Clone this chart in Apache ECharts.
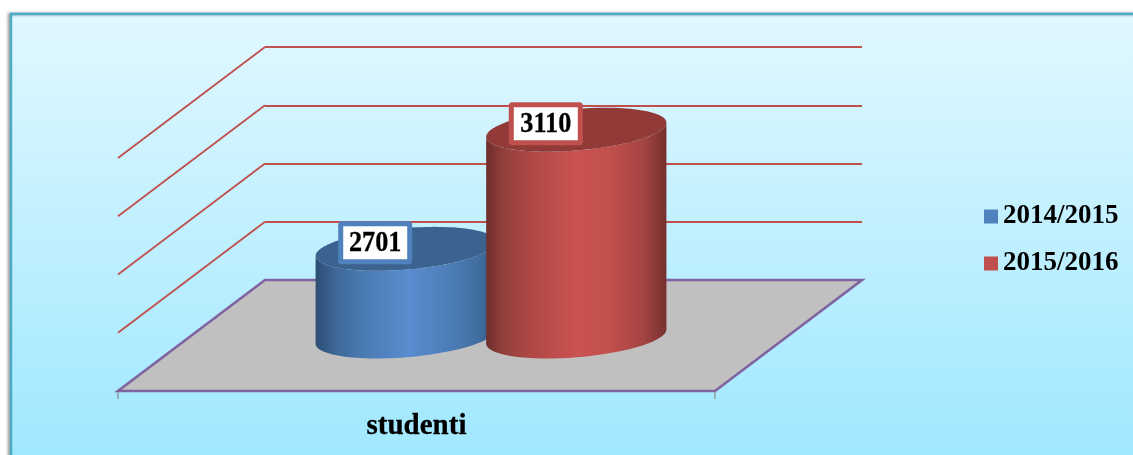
<!DOCTYPE html>
<html><head><meta charset="utf-8">
<style>html,body{margin:0;padding:0;background:#fff}#c{width:1133px;height:455px}</style>
<script src="https://cdn.jsdelivr.net/npm/echarts@6/dist/echarts.min.js"></script>
</head><body><div id="c"></div>
<script>
var categories = ['studenti'];
var seriesNames = ['2014/2015', '2015/2016'];
var values2014 = [2701];
var values2015 = [3110];
var tickValues = [2400, 2600, 2800, 3000, 3200];

var DEPTH = [-147, 111];
var FONT = '"Liberation Serif", serif';
var chart = echarts.init(document.getElementById('c'), null, {renderer: 'canvas'});

function ellipsePoints(cx, cy, r, d, from, to, n) {
  var pts = [];
  for (var i = 0; i <= n; i++) {
    var t = from + (to - from) * i / n;
    pts.push([cx + r * Math.cos(t) + DEPTH[0] * d * Math.sin(t), cy + DEPTH[1] * d * Math.sin(t)]);
  }
  return pts;
}

function cylinder(offsetBands, stops, topColor, labelColor) {
  return function (params, api) {
    var band = api.size([1, 0])[0];
    var top = api.coord([api.value(0), api.value(1)]);
    var base = api.coord([api.value(0), tickValues[0]]);
    var r = band / 7, d = 0.198;
    var cx = top[0] + band * offsetBands + DEPTH[0] * 0.5 + 1;
    var yTop = top[1] + DEPTH[1] * 0.5 + 1, yBase = base[1] + DEPTH[1] * 0.5 + 1;
    var tExt = Math.atan2(DEPTH[0] * d, r);           // t of the right-most point
    var lowerArc = ellipsePoints(cx, yBase, r, d, tExt, tExt + Math.PI, 60);
    var upperArc = ellipsePoints(cx, yTop, r, d, tExt + Math.PI, tExt, 60);
    var lx = cx - 30.5, ly = yTop - 6;
    return {type: 'group', silent: true, children: [
      {type: 'polygon', shape: {points: lowerArc.concat(upperArc)},
        style: {fill: new echarts.graphic.LinearGradient(0, 0, 1, 0, stops)}},
      {type: 'polygon', shape: {points: ellipsePoints(cx, yTop, r, d, 0, Math.PI * 2, 120)},
        style: {fill: topColor}},
      {type: 'rect', shape: {x: lx - 34.5, y: ly - 19, width: 69, height: 38, r: 1},
        style: {fill: '#fff', stroke: labelColor, lineWidth: 5}},
      {type: 'text', x: lx, y: ly + 0.5, scaleX: 0.92,
        style: {text: String(api.value(1)), fill: '#000', stroke: '#000', lineWidth: 0.3, align: 'center', verticalAlign: 'middle',
          font: 'bold 28.5px ' + FONT}}
    ]};
  };
}

function renderFrame(params, api) {
  var band = api.size([1, 0])[0];
  var bl = api.coord([0, tickValues[0]]);
  var xL = bl[0] - band / 2, xR = xL + band, yB = bl[1];
  var purple = '#8064a2';
  var children = [];
  tickValues.slice(1).forEach(function (v) {
    var p = api.coord([0, v]);
    children.push({type: 'line', shape: {x1: xL, y1: p[1], x2: xL + DEPTH[0], y2: p[1] + DEPTH[1]},
      style: {stroke: '#c0504d', lineWidth: 1.8}});
  });
  children.push({type: 'polygon',
    shape: {points: [[xL, yB], [xR, yB], [xR + DEPTH[0], yB + DEPTH[1]], [xL + DEPTH[0], yB + DEPTH[1]]]},
    style: {fill: '#c0c0c0', stroke: purple, lineWidth: 2.6}});
  [xL, xR].forEach(function (x) {
    children.push({type: 'line', shape: {x1: x + DEPTH[0], y1: yB + DEPTH[1] + 1, x2: x + DEPTH[0], y2: yB + DEPTH[1] + 8},
      style: {stroke: '#8a8a8a', lineWidth: 1.2}});
  });
  children.push({type: 'text', x: xL + band / 2 + DEPTH[0], y: yB + DEPTH[1] + 36, scaleX: 1,
    style: {text: categories[0], fill: '#000', stroke: '#000', lineWidth: 0.3, align: 'center', verticalAlign: 'middle',
      font: 'bold 29px ' + FONT}});
  return {type: 'group', silent: true, children: children};
}

chart.setOption({
  animation: false,
  backgroundColor: '#fff',
  graphic: [{type: 'rect', z: -10, silent: true,
    shape: {x: 11, y: 14, width: 1140, height: 460},
    style: {
      fill: new echarts.graphic.LinearGradient(0, 0, 0, 1, [{offset: 0, color: '#e1f8ff'}, {offset: 1, color: '#9de7ff'}]),
      stroke: '#4bacc6', lineWidth: 2.4, shadowBlur: 3, shadowColor: 'rgba(0,0,0,0.3)', shadowOffsetX: -2
    }}],
  grid: {left: 265, width: 597, top: 47, height: 233, containLabel: false},
  xAxis: {type: 'category', data: categories, axisLine: {show: false}, axisTick: {show: false}, axisLabel: {show: false}, splitLine: {show: false}},
  yAxis: {type: 'value', min: tickValues[0], max: tickValues[tickValues.length - 1], interval: 200,
    axisLine: {show: false}, axisTick: {show: false}, axisLabel: {show: false},
    splitLine: {show: true, lineStyle: {color: '#c0504d', width: 2}}},
  legend: {
    orient: 'vertical', left: 984, top: 203, padding: 0, data: seriesNames, selectedMode: false,
    icon: 'rect', itemWidth: 14, itemHeight: 14, itemGap: 20,
    textStyle: {color: '#000', fontFamily: FONT, fontWeight: 'bold', fontSize: 27, lineHeight: 24}
  },
  series: [
    {type: 'custom', name: 'frame', clip: false, z: 1, data: [[0, tickValues[0]]], encode: {x: 0, y: 1}, renderItem: renderFrame},
    {type: 'custom', name: seriesNames[0], clip: false, z: 2, itemStyle: {color: '#4f81bd'},
      data: [[0, values2014[0]]], encode: {x: 0, y: 1},
      renderItem: cylinder(-1 / 7, [{offset: 0, color: '#2b4d73'}, {offset: 0.12, color: '#3f6a9b'}, {offset: 0.3, color: '#4c7eb8'}, {offset: 0.52, color: '#5a8ccf'}, {offset: 0.72, color: '#4e7fbb'}, {offset: 0.9, color: '#416e9f'}, {offset: 1, color: '#33597f'}], '#3c628f', '#4f81bd')},
    {type: 'custom', name: seriesNames[1], clip: false, z: 3, itemStyle: {color: '#c0504d'},
      data: [[0, values2015[0]]], encode: {x: 0, y: 1},
      renderItem: cylinder(1 / 7, [{offset: 0, color: '#6f2e2c'}, {offset: 0.1, color: '#93403d'}, {offset: 0.25, color: '#b04846'}, {offset: 0.5, color: '#c95350'}, {offset: 0.68, color: '#c2504d'}, {offset: 0.87, color: '#a54543'}, {offset: 1, color: '#76302e'}], '#923a38', '#c0504d')}
  ]
});
</script></body></html>
